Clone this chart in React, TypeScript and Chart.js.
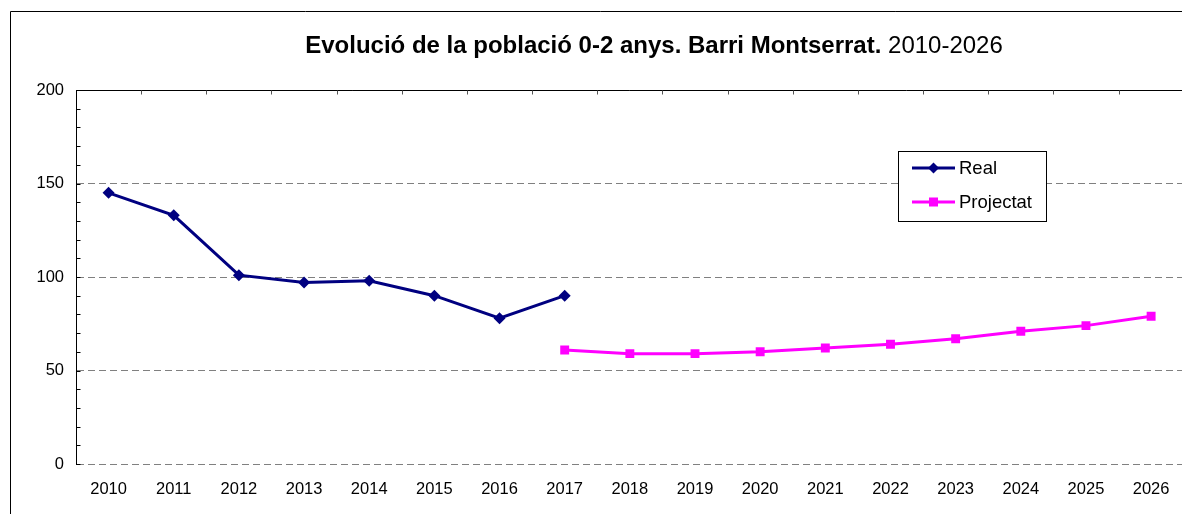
import React, { useEffect, useRef } from 'react';
import { Chart, registerables } from 'chart.js';

Chart.register(...registerables);

const years = ['2010', '2011', '2012', '2013', '2014', '2015', '2016', '2017', '2018', '2019', '2020', '2021', '2022', '2023', '2024', '2025', '2026'];
const realValues = [145, 133, 101, 97, 98, 90, 78, 90, null, null, null, null, null, null, null, null, null];
const projectedValues = [null, null, null, null, null, null, null, 61, 59, 59, 60, 62, 64, 67, 71, 74, 79];
const seriesNames = ['Real', 'Projectat'];
const seriesColors = ['#000080', '#FF00FF'];
const yMajorStep = 50;
const yMinorStep = 10;
const yMax = 200;
const titleBold = 'Evolució de la població 0-2 anys. Barri Montserrat.';
const titleNormal = ' 2010-2026';

const FONT = 'Arial, "Liberation Sans", sans-serif';

const decorPlugin = {
  id: 'decor',
  beforeDatasetsDraw(chart: any) {
    const { ctx, chartArea, scales } = chart;
    const x = scales.x;
    const y = scales.y;
    ctx.save();
    ctx.strokeStyle = '#000';
    ctx.lineWidth = 1;
    ctx.beginPath();
    const topY = Math.round(y.getPixelForValue(yMax)) + 0.5;
    ctx.moveTo(chartArea.left, topY);
    ctx.lineTo(chartArea.right, topY);
    ctx.stroke();
    ctx.strokeStyle = '#555';
    ctx.beginPath();
    for (let i = 0; i < years.length; i++) {
      const bx = Math.round((x.getPixelForValue(i) + x.getPixelForValue(i + 1)) / 2) + 0.5;
      ctx.moveTo(bx, topY);
      ctx.lineTo(bx, topY + 4);
    }
    ctx.stroke();
    ctx.strokeStyle = '#000';
    ctx.beginPath();
    const ax = Math.round(chartArea.left) + 0.5;
    for (let v = 0; v <= yMax; v += yMinorStep) {
      const py = Math.round(y.getPixelForValue(v)) + 0.5;
      ctx.moveTo(ax, py);
      ctx.lineTo(ax + 4, py);
    }
    ctx.stroke();
    ctx.restore();
  },
  afterDatasetsDraw(chart: any) {
    const { ctx } = chart;
    ctx.save();
    ctx.strokeStyle = '#000';
    ctx.lineWidth = 1;
    ctx.beginPath();
    ctx.moveTo(10.5, 600);
    ctx.lineTo(10.5, 11.5);
    ctx.lineTo(1300, 11.5);
    ctx.stroke();

    ctx.fillStyle = '#000';
    ctx.textBaseline = 'alphabetic';
    ctx.textAlign = 'left';
    const boldFont = 'bold 24px ' + FONT;
    const normFont = '24px ' + FONT;
    ctx.font = boldFont;
    const wb = ctx.measureText(titleBold).width;
    ctx.font = normFont;
    const wn = ctx.measureText(titleNormal).width;
    const cx = 654;
    const startX = cx - (wb + wn) / 2;
    ctx.font = boldFont;
    ctx.fillText(titleBold, startX, 53);
    ctx.font = normFont;
    ctx.fillText(titleNormal, startX + wb, 53);

    const bx = 898.5, by = 151.5, bw = 148, bh = 70;
    ctx.fillStyle = '#fff';
    ctx.fillRect(bx, by, bw, bh);
    ctx.strokeStyle = '#000';
    ctx.strokeRect(bx, by, bw, bh);
    const rows = [168, 202];
    ctx.font = '18.5px ' + FONT;
    ctx.textBaseline = 'middle';
    for (let i = 0; i < seriesNames.length; i++) {
      const ry = rows[i];
      ctx.strokeStyle = seriesColors[i];
      ctx.lineWidth = 3;
      ctx.beginPath();
      ctx.moveTo(912, ry);
      ctx.lineTo(955, ry);
      ctx.stroke();
      ctx.fillStyle = seriesColors[i];
      const mx = 933.5;
      if (i === 0) {
        ctx.beginPath();
        ctx.moveTo(mx, ry - 5.5);
        ctx.lineTo(mx + 5.5, ry);
        ctx.lineTo(mx, ry + 5.5);
        ctx.lineTo(mx - 5.5, ry);
        ctx.closePath();
        ctx.fill();
      } else {
        ctx.fillRect(mx - 4.5, ry - 4.5, 9, 9);
      }
      ctx.fillStyle = '#000';
      ctx.fillText(seriesNames[i], 959, ry + 1);
    }
    ctx.restore();
  },
};

export default function App() {
  const ref = useRef<HTMLCanvasElement>(null);
  useEffect(() => {
    if (!ref.current) return;
    const chart = new Chart(ref.current, {
      type: 'line',
      data: {
        labels: years,
        datasets: [
          {
            label: seriesNames[0],
            data: realValues,
            borderColor: seriesColors[0],
            backgroundColor: seriesColors[0],
            borderWidth: 3,
            pointStyle: 'rectRot',
            pointRadius: 6,
            pointBorderWidth: 0,
            spanGaps: false,
          },
          {
            label: seriesNames[1],
            data: projectedValues,
            borderColor: seriesColors[1],
            backgroundColor: seriesColors[1],
            borderWidth: 3,
            pointStyle: 'rect',
            pointRadius: 6.3,
            pointBorderWidth: 0,
            spanGaps: false,
          },
        ],
      },
      options: {
        animation: false,
        responsive: false,
        maintainAspectRatio: false,
        layout: { padding: { top: 90, left: 0, right: 6, bottom: 0 } },
        plugins: {
          legend: { display: false },
          title: { display: false },
          tooltip: { enabled: false },
        },
        scales: {
          x: {
            type: 'category',
            offset: true,
            grid: { display: false, drawTicks: false },
            border: { display: false },
            ticks: {
              color: '#000',
              font: { family: FONT, size: 16.5 },
              padding: 16,
              maxRotation: 0,
              autoSkip: false,
            },
            afterFit(scale: any) {
              scale.height = 50;
            },
          },
          y: {
            min: 0,
            max: yMax,
            ticks: {
              stepSize: yMajorStep,
              color: '#000',
              font: { family: FONT, size: 16.5 },
              padding: 12,
            },
            grid: {
              drawTicks: false,
              color: (c: any) => (c.tick && c.tick.value === yMax ? 'rgba(0,0,0,0)' : '#808080'),
              lineWidth: 1,
            },
            border: { display: true, color: '#000', width: 1, dash: [7, 4] },
            afterFit(scale: any) {
              scale.width = 76;
            },
          },
        },
      },
      plugins: [decorPlugin],
    });
    return () => chart.destroy();
  }, []);
  return (
    <div style={{ position: 'absolute', left: 0, top: 0, width: 1182, height: 514, overflow: 'hidden', background: '#fff' }}>
      <canvas ref={ref} width={1190} height={514} style={{ display: 'block', width: 1190, height: 514 }} />
    </div>
  );
}
